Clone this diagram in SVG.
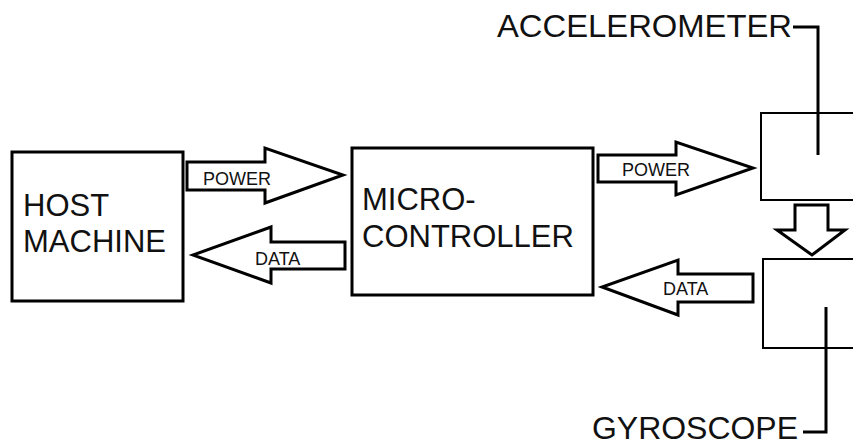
<svg xmlns="http://www.w3.org/2000/svg" width="853" height="447" viewBox="0 0 853 447">
  <style>
    .box { fill: #fff; stroke: #000; stroke-width: 3; }
    .sensor { fill: none; stroke: #000; stroke-width: 2; }
    .arrow { fill: #fff; stroke: #000; stroke-width: 3; stroke-linejoin: miter; }
    .lead { fill: none; stroke: #000; stroke-width: 3; }
    .big { font-family: "Liberation Sans", Arial, sans-serif; font-size: 31px; fill: #111; }
    .name { font-family: "Liberation Sans", Arial, sans-serif; font-size: 31px; fill: #111; }
    .small { font-family: "Liberation Sans", Arial, sans-serif; font-size: 18px; fill: #111; }
  </style>
  <rect width="853" height="447" fill="#fff"/>

  <g id="host">
    <rect class="box" x="12" y="152" width="171" height="149"/>
    <text class="big" x="23" y="216">HOST</text>
    <text class="big" x="23" y="252">MACHINE</text>
  </g>

  <g id="microcontroller">
    <rect class="box" x="352" y="148" width="241" height="147"/>
    <text class="big" x="362" y="210">MICRO-</text>
    <text class="big" x="362" y="247">CONTROLLER</text>
  </g>

  <g id="accelerometer">
    <path class="sensor" d="M856 113 H761 V200 H856"/>
    <text class="name" x="497" y="37" textLength="295" lengthAdjust="spacingAndGlyphs">ACCELEROMETER</text>
  </g>

  <g id="gyroscope">
    <path class="sensor" d="M856 259 H763 V348 H856"/>
    <text class="name" x="592" y="439" textLength="206" lengthAdjust="spacingAndGlyphs">GYROSCOPE</text>
  </g>

  <g id="connectors">
    <!-- host -> microcontroller power -->
    <polygon class="arrow" points="187,162 265,162 265,148 343,175 265,203 265,190 187,190"/>
    <text class="small" x="203" y="185">POWER</text>
    <!-- microcontroller -> host data -->
    <polygon class="arrow" points="345,242 271,242 271,227 193,255 271,283 271,269 345,269"/>
    <text class="small" x="255" y="265">DATA</text>
    <!-- microcontroller -> sensors power -->
    <polygon class="arrow" points="598,155 676,155 676,142 753,168 676,195 676,182 598,182"/>
    <text class="small" x="622" y="176">POWER</text>
    <!-- sensors -> microcontroller data -->
    <polygon class="arrow" points="753,274 678,274 678,260 602,287 678,315 678,302 753,302"/>
    <text class="small" x="663" y="295">DATA</text>
    <!-- accelerometer -> gyroscope -->
    <polygon class="arrow" points="795,205 828,205 828,230 845,230 812,255 777,230 795,230"/>
    <!-- label leaders -->
    <path class="lead" d="M793 27 H818 V155"/>
    <path class="lead" d="M826 307 V432 H803"/>
  </g>
</svg>
